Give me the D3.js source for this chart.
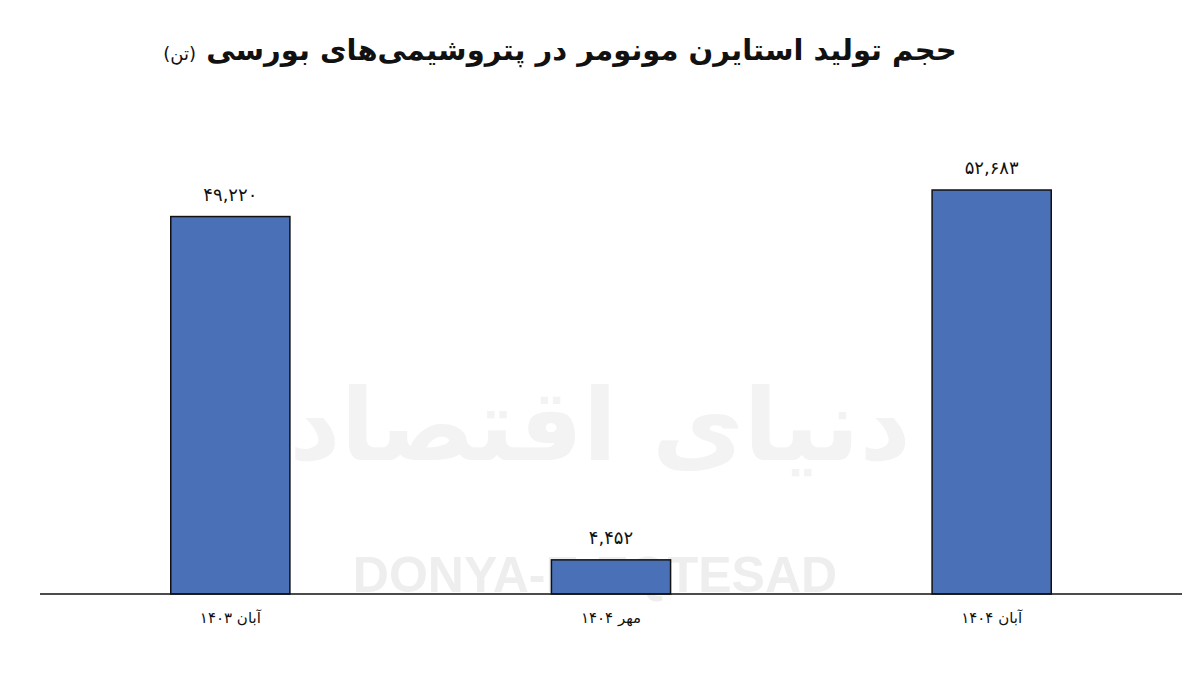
<!DOCTYPE html>
<html><head><meta charset="utf-8">
<script src="https://cdn.jsdelivr.net/npm/d3@7"></script>
<style>body{margin:0;background:#fff}</style></head>
<body><svg id="c" width="1200" height="683"></svg>
<script>
const categories = ["آبان ۱۴۰۳", "مهر ۱۴۰۴", "آبان ۱۴۰۴"];
const values = [49220, 4452, 52683];
const valueLabels = ["۴۹,۲۲۰", "۴,۴۵۲", "۵۲,۶۸۳"];
const title = "حجم تولید استایرن مونومر در پتروشیمی‌های بورسی";
const unit = "(تن)";

const svg = d3.select("#c");
const font = "DejaVu Sans, Noto Sans, sans-serif";
const x = d3.scaleBand().domain(categories).range([40, 1182]).paddingInner(0.687).paddingOuter(0.3435);
const y = d3.scaleLinear().domain([0, 52683]).range([594, 190]);

// watermark
svg.append("text").attr("x", 595).attr("y", 592).attr("text-anchor", "middle")
  .attr("font-family", "Liberation Sans, sans-serif").attr("font-weight", "bold").attr("font-size", 50)
  .attr("fill", "#eeeeee").text("DONYA-E-EQTESAD");
svg.append("text").attr("x", 600).attr("y", 460).attr("text-anchor", "middle")
  .attr("font-family", font).attr("font-weight", "bold").attr("font-size", 100)
  .attr("fill", "#f3f3f3").text("دنیای اقتصاد");

svg.selectAll("rect.bar").data(values).join("rect").attr("class", "bar")
  .attr("x", (d, i) => x(categories[i])).attr("width", x.bandwidth())
  .attr("y", d => y(d)).attr("height", d => y(0) - y(d))
  .attr("fill", "#4a71b8").attr("stroke", "#111").attr("stroke-width", 1.5);

svg.selectAll("text.val").data(values).join("text").attr("class", "val")
  .attr("x", (d, i) => x(categories[i]) + x.bandwidth() / 2).attr("y", d => y(d) - 16)
  .attr("text-anchor", "middle").attr("font-family", font).attr("font-size", 18).attr("fill", "#111")
  .text((d, i) => valueLabels[i]);

const axis = d3.axisBottom(x).tickSize(0).tickPadding(18);
const g = svg.append("g").attr("transform", "translate(0,594)").call(axis);
g.select(".domain").attr("stroke", "#111").attr("stroke-width", 1.5).attr("d", "M40,0H1182");
g.selectAll("text").attr("font-family", font).attr("font-size", 15).attr("fill", "#111").attr("direction", "rtl");

const t = svg.append("text").attr("x", 560).attr("y", 60).attr("text-anchor", "middle")
  .attr("direction", "rtl").attr("font-family", font).attr("fill", "#111");
t.append("tspan").attr("font-weight", "bold").attr("font-size", 29).text(title + " ");
t.append("tspan").attr("font-size", 18).text(unit);
</script></body></html>
